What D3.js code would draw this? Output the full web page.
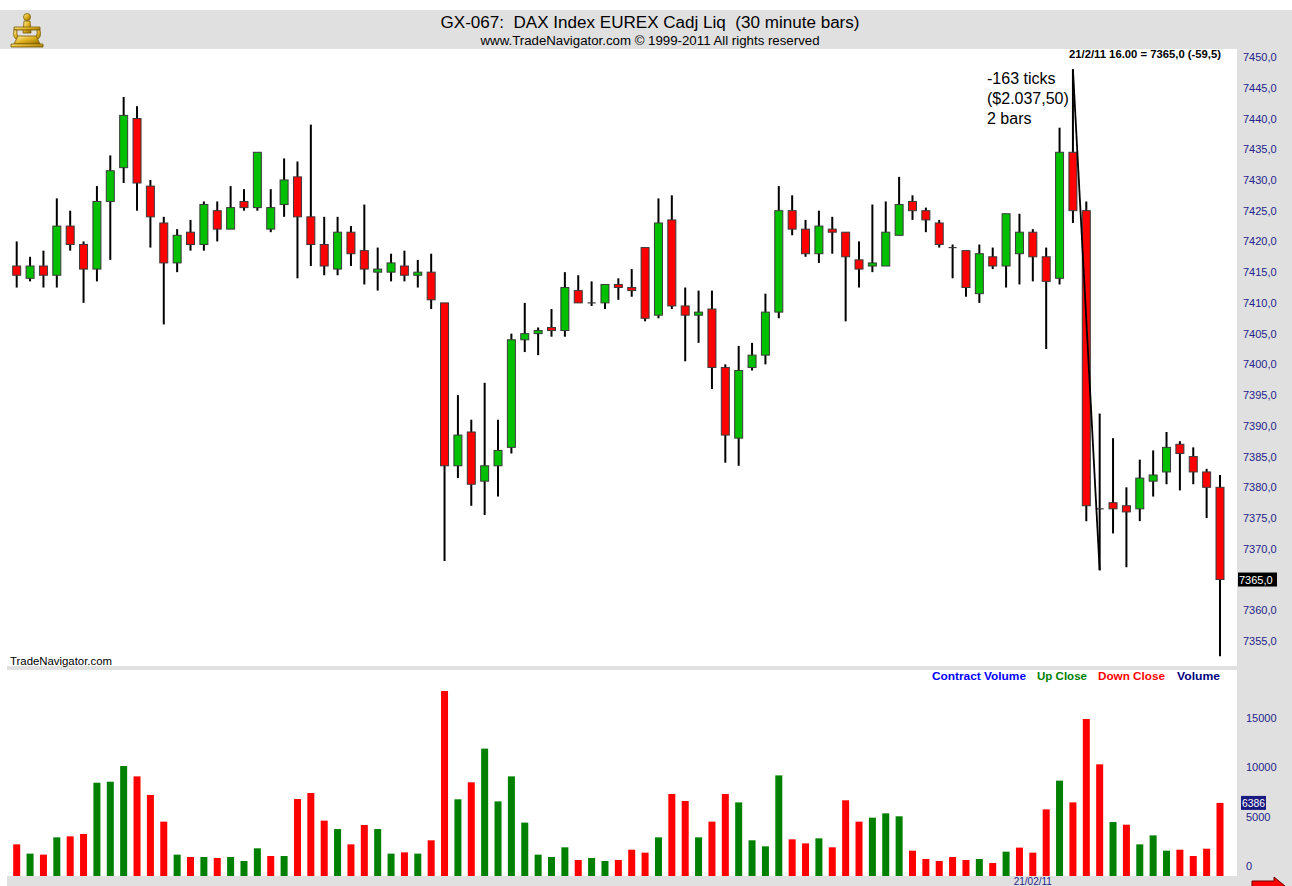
<!DOCTYPE html>
<html><head><meta charset="utf-8">
<script src="https://cdn.jsdelivr.net/npm/d3@7"></script>
<style>body{margin:0;background:#fff;} svg{display:block;}</style>
</head><body>
<svg id="c" width="1292" height="886"></svg>
<script>
// ---- DATA ----
const opens  = [7416,7414,7416,7414.5,7422.5,7419.5,7415.5,7426.5,7432,7440,7429,7423,7416.5,7421.5,7419.5,7425,7422,7426.5,7425.5,7422,
                7426,7430.5,7424,7419.5,7415.5,7421.5,7418.5,7415,7415,7416,7414.5,7415,7410,7383.5,7389,7381,7383.5,7386.5,7404,7405,
                7406,7405.5,7412,7410,7410,7413,7412.5,7419,7408,7423.5,7409.5,7408,7409,7399.5,7388,7399.5,7401.5,7408.5,7425,7422,
                7418,7422,7421.5,7417,7416,7416,7421,7426.5,7425,7423,7419,7418.5,7411.5,7417.5,7416,7418,7421.5,7417.5,7414,7434.5,
                7425,7376.5,7377.5,7377,7376.5,7381,7382.5,7387,7385,7382.5,7380];
const highs  = [7420,7417.5,7418.5,7427,7425,7420,7429,7434,7443.5,7442,7430,7424,7422,7423.5,7426.5,7426.5,7429,7428.5,7434.5,7428.5,
                7433.5,7433,7439,7424,7424,7422.5,7426,7419,7418,7418.5,7417,7418,7410,7395,7391,7397,7391,7405,7410,7406,
                7409,7415,7414.5,7413.5,7413,7414,7415.5,7419,7427,7427.5,7412.5,7412,7412,7400,7403,7403.5,7411.5,7429,7427.5,7423.5,
                7425,7424,7421.5,7420,7426,7426.5,7430.5,7427.5,7425.5,7423.5,7419.5,7418.5,7419.5,7419,7424.5,7424.5,7422,7419,7438.5,7448,
                7426.5,7392,7388,7380,7384.5,7386,7389,7387.5,7386.5,7383,7382];
const lows   = [7412.5,7413.5,7412.5,7412.5,7418.5,7410,7413.5,7417,7429.5,7425,7419,7406.5,7415,7418.5,7418.5,7420,7422,7425,7425,7421.5,
                7424,7414,7416,7414.5,7414.5,7416,7413,7412,7413.5,7413.5,7412.5,7409,7368,7381.5,7377,7375.5,7378.5,7385.5,7402,7401.5,
                7404.5,7404.5,7410,7409.5,7409,7410.5,7411,7407,7407.5,7409,7400.5,7403.5,7396,7384,7383.5,7399,7400,7407.5,7421,7417.5,
                7416.5,7418,7407,7412.5,7415,7416,7421,7423.5,7421.5,7419,7414,7411,7410,7415.5,7412.5,7413,7413.5,7402.5,7413,7423,
                7374.5,7366.5,7372.5,7367,7374.5,7378.5,7380.5,7379.5,7380.5,7375,7352.5];
const closes = [7414.5,7416,7414.5,7422.5,7419.5,7415.5,7426.5,7431.5,7440.5,7429.5,7424,7416.5,7421,7419.5,7426,7422,7425.5,7425.5,7434.5,7425.5,
                7430,7424,7419.5,7416,7421.5,7418,7415.5,7415.5,7416.5,7414.5,7415,7410.5,7383.5,7388.5,7380.5,7383.5,7386,7404,7405,7405.5,
                7405.5,7412.5,7410,7410,7413,7412.5,7412,7407.5,7423,7409.5,7408,7408.5,7399.5,7388.5,7399,7401.5,7408.5,7425,7422,7418,
                7422.5,7421.5,7417.5,7415.5,7416.5,7421.5,7426,7425,7423.5,7419.5,7419,7412.5,7418,7416,7424.5,7421.5,7417.5,7413.5,7434.5,7425,
                7377,7376.5,7376.5,7376,7381.5,7382,7386.5,7385.5,7382.5,7380,7365];
const volumes = [2190,1250,1150,2900,3000,3240,8430,8530,10120,9070,7190,4490,1150,910,910,810,910,510,1790,1010,
                 1010,6780,7390,4590,3740,2190,4150,3740,1250,1380,1250,2600,17710,6750,8470,11880,6540,9070,4390,1150,
                 910,1890,610,810,510,610,1650,1350,2900,7290,6580,2900,4490,7290,6440,2600,1990,9170,2700,2290,
                 2800,1890,6650,4490,4890,5330,5030,1550,710,510,910,610,710,300,1450,1860,1350,5730,8640,6440,
                 14880,10290,4450,4180,2190,3100,1550,1650,1010,1750,6386];
const priceTicks  = [7355,7360,7365,7370,7375,7380,7385,7390,7395,7400,7405,7410,7415,7420,7425,7430,7435,7440,7445,7450];
const volumeTicks = [0,5000,10000,15000];
const dateTickIndex = [76];
const dateTickLabels = ["21/02/11"];
const legendItems = ["Contract Volume","Up Close","Down Close","Volume"];
const annotationLines = ["-163 ticks","($2.037,50)","2 bars"];
const lastInfo = "21/2/11 16.00 = 7365,0 (-59,5)";

// ---- DRAWING ----
const svg = d3.select('#c');
const W = 1292, H = 886;
const FONT = '"Liberation Sans", Arial, Helvetica, sans-serif';
const GRAY = '#e0e0e0';
const NAVY = '#24248a';

svg.append('rect').attr('width',W).attr('height',H).attr('fill','#fff');
svg.append('rect').attr('x',0).attr('y',10).attr('width',W).attr('height',39).attr('fill',GRAY);
svg.append('rect').attr('x',1237).attr('y',49).attr('width',W-1237).attr('height',H-49).attr('fill',GRAY);
svg.append('rect').attr('x',7).attr('y',666).attr('width',1230).attr('height',4).attr('fill',GRAY);
svg.append('rect').attr('x',7).attr('y',876).attr('width',1230).attr('height',10).attr('fill',GRAY);

const n = closes.length;
const x = d3.scaleLinear().domain([0, n-1]).range([16.7, 1220]);
const yP = d3.scaleLinear().domain([7355, 7450]).range([641, 57]);
const yV = d3.scaleLinear().domain([0, 15000]).range([866, 717.8]);
const lp = closes[n-1];
const lv = volumes[n-1];

// header
svg.append('text').attr('x',650).attr('y',28).attr('text-anchor','middle')
  .attr('font-family',FONT).attr('font-size',16).attr('fill','#000')
  .attr('textLength',419).attr('lengthAdjust','spacingAndGlyphs')
  .text('GX-067:\u00A0 DAX Index EUREX Cadj Liq\u00A0 (30 minute bars)');
svg.append('text').attr('x',650).attr('y',45).attr('text-anchor','middle')
  .attr('font-family',FONT).attr('font-size',12).attr('fill','#000')
  .attr('textLength',339).attr('lengthAdjust','spacingAndGlyphs')
  .text('www.TradeNavigator.com \u00A9 1999-2011 All rights reserved');

// logo (gold figure)
const defs = svg.append('defs');
const g1 = defs.append('linearGradient').attr('id','gold').attr('x1','0').attr('y1','0').attr('x2','1').attr('y2','1');
g1.append('stop').attr('offset','0').attr('stop-color','#fff3a0');
g1.append('stop').attr('offset','0.5').attr('stop-color','#e0b020');
g1.append('stop').attr('offset','1').attr('stop-color','#8a6a00');
const logo = svg.append('g').attr('fill','url(#gold)').attr('stroke','#7a5a00').attr('stroke-width',0.8);
logo.append('circle').attr('cx',27).attr('cy',17).attr('r',3.5);
logo.append('path').attr('d','M24,21 L30,21 L31,33 L23,33 Z');
logo.append('path').attr('d','M14,27 L40,27 L40,30 L14,30 Z');
logo.append('path').attr('d','M14,30 Q12,38 18,40 L20,38 Q16,36 17,30 Z');
logo.append('path').attr('d','M40,30 Q42,38 36,40 L34,38 Q38,36 37,30 Z');
logo.append('path').attr('d','M18,36 L36,36 L40,44 L14,44 Z');
logo.append('path').attr('d','M11,44 L43,44 L43,47 L11,47 Z');

// info text top right
svg.append('text').attr('x',1221).attr('y',58).attr('text-anchor','end')
  .attr('font-family',FONT).attr('font-size',10).attr('font-weight','bold').attr('fill','#000')
  .attr('textLength',152).attr('lengthAdjust','spacingAndGlyphs').text(lastInfo);

// price axis (the tick at the last price is replaced by the highlight label)
const pAxis = svg.append('g').attr('transform','translate(1240,0)')
  .call(d3.axisRight(yP).tickValues(priceTicks).tickSize(0).tickPadding(3)
        .tickFormat(d => d.toFixed(1).replace('.', ',')));
pAxis.select('.domain').remove();
pAxis.selectAll('.tick').filter(d => d === lp).remove();
pAxis.selectAll('text').attr('fill',NAVY).attr('font-family',FONT).attr('font-size',11);

// volume axis
const vAxis = svg.append('g').attr('transform','translate(1243,0)')
  .call(d3.axisRight(yV).tickValues(volumeTicks).tickSize(0).tickPadding(3).tickFormat(d3.format('d')));
vAxis.select('.domain').remove();
vAxis.selectAll('text').attr('fill',NAVY).attr('font-family',FONT).attr('font-size',11);

// candles
const UPC = '#00c000', DNC = '#ff0000';
const cg = svg.append('g');
const idx = d3.range(n);
cg.selectAll('line.wick').data(idx).join('line').attr('class','wick')
  .attr('x1',i=>x(i)).attr('x2',i=>x(i))
  .attr('y1',i=>yP(highs[i])).attr('y2',i=>yP(lows[i]))
  .attr('stroke','#000').attr('stroke-width',2);
const bodyW = 8;
cg.selectAll('rect.body').data(idx.filter(i=>opens[i]!==closes[i])).join('rect').attr('class','body')
  .attr('x',i=>x(i)-bodyW/2).attr('width',bodyW)
  .attr('y',i=>yP(Math.max(opens[i],closes[i])))
  .attr('height',i=>Math.max(1, yP(Math.min(opens[i],closes[i])) - yP(Math.max(opens[i],closes[i]))))
  .attr('fill',i=>closes[i]>opens[i]?UPC:DNC)
  .attr('stroke','#3a3a3a').attr('stroke-width',1);
cg.selectAll('line.doji').data(idx.filter(i=>opens[i]===closes[i])).join('line').attr('class','doji')
  .attr('x1',i=>x(i)-bodyW/2).attr('x2',i=>x(i)+bodyW/2)
  .attr('y1',i=>yP(closes[i])).attr('y2',i=>yP(closes[i]))
  .attr('stroke','#3a3a3a').attr('stroke-width',1.2);

// measurement line (bar 80 high -> bar 82 low)
svg.append('line').attr('x1',x(79)).attr('y1',yP(highs[79])).attr('x2',x(81)).attr('y2',yP(lows[81]))
  .attr('stroke','#000').attr('stroke-width',1.8);
const ann = svg.append('text').attr('font-family',FONT).attr('font-size',16).attr('fill','#000');
annotationLines.forEach((t,k)=>{
  ann.append('tspan').attr('x',987).attr('y',84+k*20).text(t);
});

// current price highlight
svg.append('rect').attr('x',1238).attr('y',yP(lp)-7).attr('width',39).attr('height',14).attr('fill','#000');
svg.append('text').attr('x',1239).attr('y',yP(lp)+4).attr('font-family',FONT).attr('font-size',11)
  .attr('fill','#fff').text(lp.toFixed(1).replace('.',','));

// TradeNavigator.com
svg.append('text').attr('x',10).attr('y',665).attr('font-family',FONT).attr('font-size',11).attr('fill','#000')
  .attr('textLength',102).attr('lengthAdjust','spacingAndGlyphs').text('TradeNavigator.com');

// volume bars
const VUP = '#008000', VDN = '#ff0000';
const upClose = i => i===0 ? closes[0]>=opens[0] : closes[i]>=closes[i-1];
svg.append('g').selectAll('rect').data(idx).join('rect')
  .attr('x',i=>x(i)-3.5).attr('width',7)
  .attr('y',i=>yV(volumes[i])).attr('height',i=>876-yV(volumes[i]))
  .attr('fill',i=>upClose(i)?VUP:VDN);

// legend
const legColors = ['#0000ff','#008000','#ff0000','#000080'];
const legX = [932,1037,1098,1177];
const legW = [94,50,67,43];
legendItems.forEach((t,k)=>{
  svg.append('text').attr('x',legX[k]).attr('y',680).attr('font-family',FONT).attr('font-size',11)
    .attr('font-weight','bold').attr('fill',legColors[k])
    .attr('textLength',legW[k]).attr('lengthAdjust','spacingAndGlyphs').text(t);
});

// last volume highlight
svg.append('rect').attr('x',1241).attr('y',yV(lv)-7).attr('width',25).attr('height',14).attr('fill','#1a1a80');
svg.append('text').attr('x',1242).attr('y',yV(lv)+4).attr('font-family',FONT).attr('font-size',11)
  .attr('fill','#fff').attr('textLength',23).attr('lengthAdjust','spacingAndGlyphs').text(String(lv));

// date tick label (bottom strip)
dateTickIndex.forEach((di,k)=>{
  svg.append('text').attr('x',x(di)).attr('y',885).attr('text-anchor','middle')
    .attr('font-family',FONT).attr('font-size',10).attr('fill',NAVY).text(dateTickLabels[k]);
});

// red arrow bottom right
svg.append('path').attr('d','M1252,881 L1274,881 L1274,877 L1285,886 L1274,895 L1274,891 L1252,891 Z')
  .attr('fill','#ff0000').attr('stroke','#600').attr('stroke-width',1);
</script>
</body></html>
